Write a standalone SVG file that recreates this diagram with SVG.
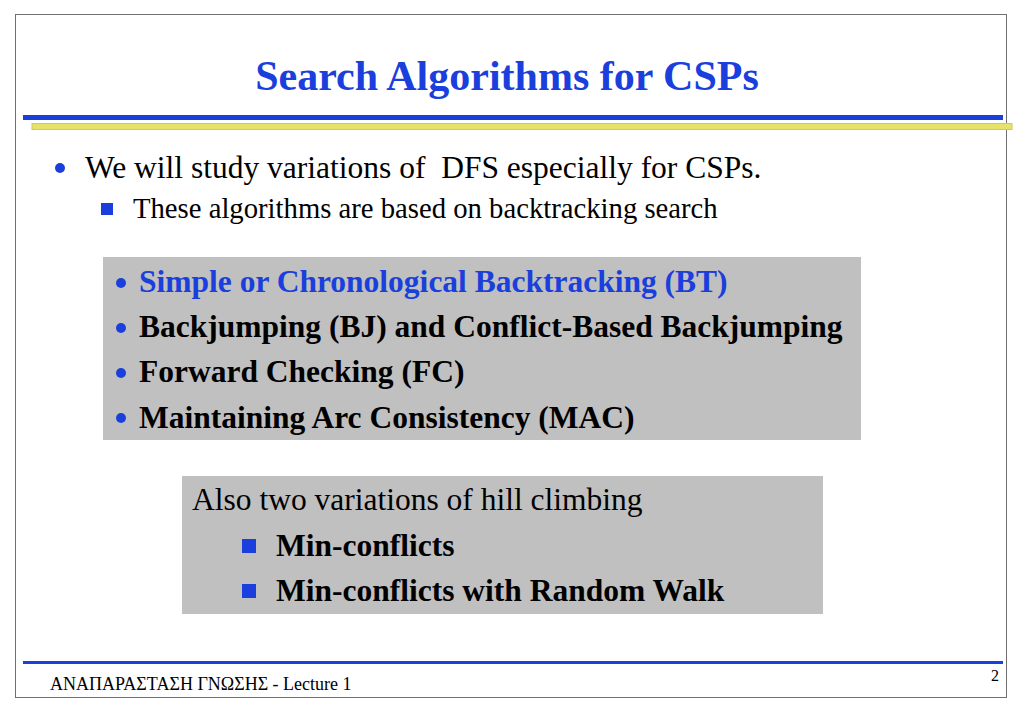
<svg xmlns="http://www.w3.org/2000/svg" width="1023" height="708" viewBox="0 0 1023 708">
<style>
.t{font-family:"Liberation Serif","Times New Roman",serif;fill:#000;white-space:pre}
.b{font-weight:bold}
.blue{fill:#1a3fdc}
.box{fill:#c0c0c0}
.m{font-size:31.5px}
</style>
<rect x="0" y="0" width="1023" height="708" fill="#fff"/>
<rect x="15.5" y="14.5" width="991" height="683" fill="none" stroke="#707070" stroke-width="1"/>
<g id="header">
<text class="t b blue" x="507" y="90" font-size="42" text-anchor="middle">Search Algorithms for CSPs</text>
<rect x="23" y="115" width="980" height="5" fill="#1a3fdc"/>
<rect x="32" y="123.5" width="980" height="6" fill="#e6e36c" stroke="#cfc85a" stroke-width="1"/>
</g>
<g id="intro">
<circle cx="60" cy="168" r="5" fill="#1a3fdc"/>
<text class="t m" x="85" y="178" xml:space="preserve">We will study variations of  DFS especially for CSPs.</text>
<rect x="101" y="203" width="12" height="12" fill="#1a3fdc"/>
<text class="t" x="133" y="218" font-size="28.7">These algorithms are based on backtracking search</text>
</g>
<g id="box1">
<rect class="box" x="103" y="257" width="758" height="183"/>
<circle cx="121" cy="283" r="5" fill="#1a3fdc"/>
<circle cx="121" cy="328" r="5" fill="#1a3fdc"/>
<circle cx="121" cy="373" r="5" fill="#1a3fdc"/>
<circle cx="121" cy="418" r="5" fill="#1a3fdc"/>
<text class="t b blue m" x="139" y="292">Simple or Chronological Backtracking (BT)</text>
<text class="t b m" x="139" y="337">Backjumping (BJ) and Conflict-Based Backjumping</text>
<text class="t b m" x="139" y="382">Forward Checking (FC)</text>
<text class="t b m" x="139" y="428">Maintaining Arc Consistency (MAC)</text>
</g>
<g id="box2">
<rect class="box" x="182" y="476" width="641" height="138"/>
<text class="t m" x="192" y="510">Also two variations of hill climbing</text>
<rect x="242" y="539" width="14" height="14" fill="#1a3fdc"/>
<rect x="242" y="584" width="14" height="14" fill="#1a3fdc"/>
<text class="t b m" x="276" y="556">Min-conflicts</text>
<text class="t b m" x="276" y="601">Min-conflicts with Random Walk</text>
</g>
<g id="footer">
<rect x="23" y="661" width="980" height="3" fill="#1a3fdc"/>
<text class="t" x="50" y="690" font-size="18">ΑΝΑΠΑΡΑΣΤΑΣΗ ΓΝΩΣΗΣ - Lecture 1</text>
<text class="t" x="999" y="681" font-size="16" text-anchor="end">2</text>
</g>
</svg>
